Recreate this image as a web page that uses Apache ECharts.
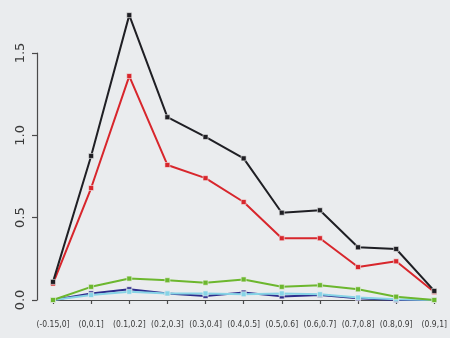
<!DOCTYPE html>
<html>
<head>
<meta charset="utf-8">
<script src="https://cdn.jsdelivr.net/npm/echarts@6/dist/echarts.min.js"></script>
<style>
  html, body { margin: 0; padding: 0; background: #eaecee; }
  #chart { width: 450px; height: 338px; }
</style>
</head>
<body>
<div id="chart"></div>
<script>
// Interval categories along the x axis
const categories = ['(-0.15,0]', '(0,0.1]', '(0.1,0.2]', '(0.2,0.3]', '(0.3,0.4]', '(0.4,0.5]',
                    '(0.5,0.6]', '(0.6,0.7]', '(0.7,0.8]', '(0.8,0.9]', '(0.9,1]'];

// Series values
const blackVals = [0.11, 0.875, 1.73, 1.11, 0.99, 0.86, 0.53, 0.545, 0.32, 0.31, 0.055];
const redVals   = [0.10, 0.68, 1.36, 0.82, 0.74, 0.595, 0.375, 0.375, 0.20, 0.235, 0.048];
const greenVals = [0.0, 0.08, 0.13, 0.12, 0.105, 0.125, 0.08, 0.09, 0.065, 0.02, 0.0];
const navyVals  = [0.0, 0.04, 0.065, 0.04, 0.025, 0.045, 0.022, 0.03, 0.01, 0.0, 0.0];
const cyanVals  = [0.0, 0.03, 0.05, 0.04, 0.04, 0.035, 0.04, 0.035, 0.015, 0.005, 0.0];

// Y tick labels
const yTicks = ['0.0', '0.5', '1.0', '1.5'];

const axisColor = '#4a4a4a';
const labelColor = '#3a3a3a';

function lineSeries(name, data, color, z) {
  return {
    name: name,
    type: 'line',
    data: data,
    clip: false,
    z: z,
    symbol: 'rect',
    symbolSize: 5,
    showSymbol: true,
    lineStyle: { color: color, width: 2 },
    itemStyle: { color: color, borderColor: '#f2f2f2', borderWidth: 0.6 },
    emphasis: { disabled: true }
  };
}

const chart = echarts.init(document.getElementById('chart'), null, { renderer: 'canvas' });
chart.setOption({
  backgroundColor: '#eaecee',
  animation: false,
  grid: { left: 53, right: 14, top: 53, bottom: 38 },
  xAxis: {
    type: 'category',
    data: categories,
    boundaryGap: false,
    offset: 12,
    axisLine: { show: true, lineStyle: { color: axisColor, width: 1.2 } },
    axisTick: { show: true, inside: false, length: 4, alignWithLabel: true, lineStyle: { color: axisColor, width: 1.2 } },
    axisLabel: {
      interval: 0,
      color: labelColor,
      fontFamily: 'DejaVu Sans Condensed',
      fontSize: 8.5,
      margin: 8
    },
    splitLine: { show: false }
  },
  yAxis: {
    type: 'value',
    min: 0,
    max: 1.5,
    interval: 0.5,
    offset: 16,
    axisLine: { show: true, lineStyle: { color: axisColor, width: 1.2 } },
    axisTick: { show: true, length: 5, lineStyle: { color: axisColor, width: 1.2 } },
    axisLabel: {
      rotate: 90,
      color: labelColor,
      fontFamily: 'DejaVu Sans',
      fontSize: 13,
      margin: 10,
      formatter: function (v) { return yTicks[Math.round(v / 0.5)]; }
    },
    splitLine: { show: false }
  },
  series: [
    lineSeries('navy', navyVals, '#2e2c8c', 1),
    lineSeries('cyan', cyanVals, '#86d3e6', 2),
    lineSeries('green', greenVals, '#6cb72e', 3),
    lineSeries('red', redVals, '#d8262c', 4),
    lineSeries('black', blackVals, '#1f1f24', 5)
  ]
});
</script>
</body>
</html>
